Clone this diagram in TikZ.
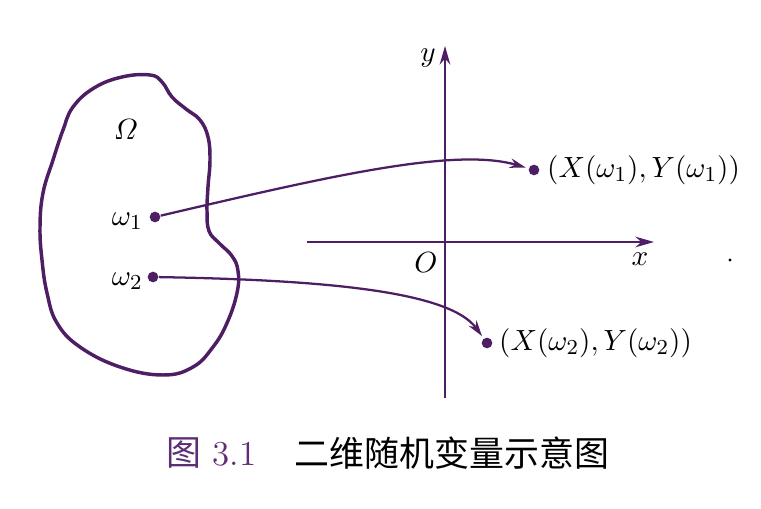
\documentclass[tikz,border=0pt]{standalone}
\usepackage{fontspec}
\usepackage{amsmath}
\newfontfamily\cjk{Noto Sans CJK SC}
\usetikzlibrary{arrows.meta}
\definecolor{ink}{RGB}{78,30,100}
\definecolor{capc}{RGB}{95,45,115}
\begin{document}
\begin{tikzpicture}[x=0.375pt,y=-0.375pt,
  blob/.style={draw=ink,line width=1.3pt},
  axis/.style={draw=ink,line width=0.65pt,-{Stealth[length=7pt,width=4pt]}},
  conn/.style={draw=ink,line width=0.85pt,-{Stealth[length=6pt,width=3.6pt]},shorten >=1pt},
  dot/.style={circle,fill=ink,inner sep=0pt,minimum size=4pt},
  smalldot/.style={circle,fill=black,inner sep=0pt,minimum size=1.2pt},
  lab/.style={font=\fontsize{11.3}{14}\selectfont,inner sep=1pt},
  captext/.style={font=\fontsize{13.1}{16}\selectfont,inner sep=0pt}]
\useasboundingbox (0,0) rectangle (761,509);
% sample space
\draw[blob] plot[smooth cycle, tension=0.7] coordinates {
 (150,75) (122,77) (94,88) (73,107) (63,130) (53,160) (43,193) (40,227)
 (42,260) (47,293) (57,323) (80,347) (120,367) (163,375) (193,367) (213,347)
 (227,323) (237,293) (238,271) (232,256) (219,243) (209,231) (207,211)
 (208,187) (210,160) (208,137) (200,120) (186,109) (172,97) (162,82)};
\node[lab] (omega) at (126,130) {$\varOmega$};
\node[dot] (w1) at (155,217) {};
\node[dot] (w2) at (153,277) {};
\node[lab,anchor=east] (w1l) at (146,221) {$\omega_1$};
\node[lab,anchor=east] (w2l) at (146,281) {$\omega_2$};
% axes
\coordinate (xl) at (307,242);
\coordinate (xr) at (654,242);
\coordinate (yb) at (445,398);
\coordinate (yt) at (445,46);
\draw[axis] (xl) -- (xr);
\draw[axis] (yb) -- (yt);
\node[lab] (ylab) at (428,58) {$y$};
\node[lab] (xlab) at (640,259) {$x$};
\node[lab] (olab) at (426,263) {$O$};
% images
\node[dot] (p1) at (534,170) {};
\node[dot] (p2) at (487,343) {};
\node[lab,anchor=west] (p1l) at (544,170) {$(X(\omega_1),Y(\omega_1))$};
\node[lab,anchor=west] (p2l) at (496,343) {$(X(\omega_2),Y(\omega_2))$};
\draw[conn] (w1) .. controls (330,176) and (455,147) .. (p1);
\draw[conn] (w2) .. controls (330,280) and (450,292) .. (p2);
\node[smalldot] (stray) at (730,260) {};
% caption
\node[captext,anchor=west] (cap1) at (166,453) {{\cjk\color{capc}图} {\color{capc}3.1}};
\node[captext,anchor=west] (cap2) at (294,453) {\cjk 二维随机变量示意图};
\end{tikzpicture}
\end{document}
